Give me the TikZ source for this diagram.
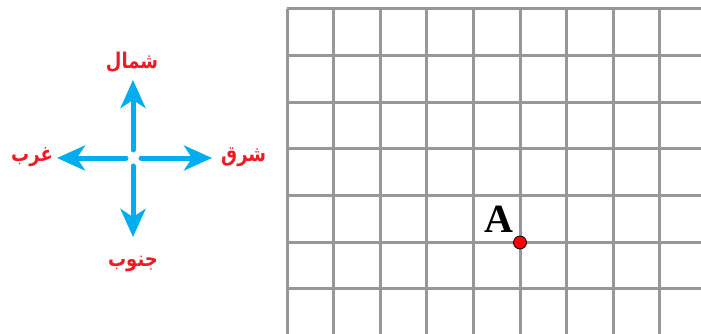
\documentclass[tikz,border=0pt]{standalone}
\usepackage{fontspec}
\usetikzlibrary{arrows.meta}
\TeXXeTstate=1
\newfontfamily\arabicfont[Script=Arabic]{DejaVu Sans}
\setmainfont{Liberation Serif}
\definecolor{compasscyan}{RGB}{0,174,239}
\definecolor{labelred}{RGB}{237,28,36}
\definecolor{gridgray}{RGB}{150,150,155}
\begin{document}
\begin{tikzpicture}[x=1pt,y=-1pt,
  dirarrow/.style={draw=compasscyan,line width=5pt,line cap=round,
    -{Stealth[length=28pt,width=25pt,inset=8pt]}},
  dirlabel/.style={text=labelred,font=\arabicfont\bfseries\fontsize{18}{22}\selectfont,inner sep=0pt,yscale=1.2},
  gridline/.style={draw=gridgray,line width=3pt},
  ptlabel/.style={font=\bfseries\fontsize{40}{44}\selectfont,inner sep=0pt}]
\useasboundingbox (0,0) rectangle (701,334);
% grid
\begin{scope}
\clip (0,0) rectangle (701,334);
\foreach \i in {0,...,9} {
  \draw[gridline] ({287+46.6*\i},9) -- ({287+46.6*\i},340);
}
\foreach \j in {0,...,7} {
  \draw[gridline] (287,{9+46.6*\j}) -- (710,{9+46.6*\j});
}
\end{scope}
% point A
\coordinate (A) at (520,242.5);
\fill[red,draw=black,line width=0.8pt] (A) circle (6.5);
\node[ptlabel,anchor=base] (Alabel) at (499,232) {A};
% compass
\coordinate (c) at (133,158);
\coordinate (nS) at (133,150);
\coordinate (nE) at (133,80);
\coordinate (sS) at (133,166);
\coordinate (sE) at (133,237);
\coordinate (eS) at (141,158);
\coordinate (eE) at (212,158);
\coordinate (wS) at (126,158);
\coordinate (wE) at (57,158);
\draw[dirarrow] (nS) -- (nE);
\draw[dirarrow] (sS) -- (sE);
\draw[dirarrow] (eS) -- (eE);
\draw[dirarrow] (wS) -- (wE);
\node[dirlabel] (north) at (132,62) {\beginR شمال\endR};
\node[dirlabel] (south) at (133,264) {\beginR جنوب\endR};
\node[dirlabel,anchor=east] (west) at (53,157) {\beginR غرب\endR};
\node[dirlabel,anchor=west] (east) at (221,157) {\beginR شرق\endR};
\end{tikzpicture}
\end{document}
